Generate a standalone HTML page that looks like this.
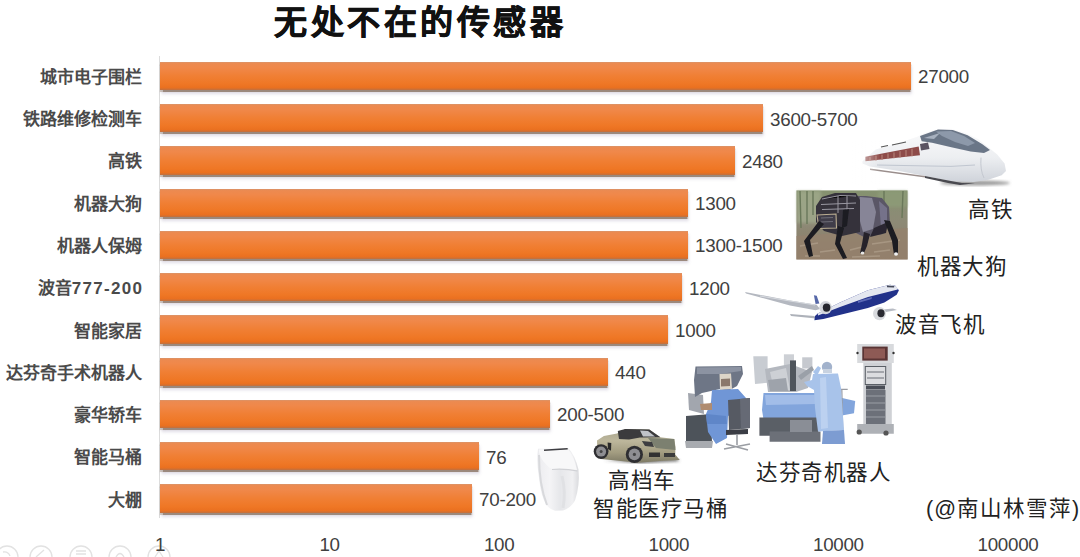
<!DOCTYPE html>
<html lang="zh-CN"><head><meta charset="utf-8">
<style>
*{margin:0;padding:0;box-sizing:border-box}
html,body{width:1080px;height:557px;overflow:hidden;background:#fff;font-family:"Liberation Sans",sans-serif}
#c{position:relative;width:1080px;height:557px}
.t{position:absolute;left:274px;top:-4px;font-size:33px;letter-spacing:3.5px;font-weight:bold;color:#111;white-space:nowrap;-webkit-text-stroke:0.6px #111}
.axis{position:absolute;left:159px;top:56px;width:1px;height:462px;background:#dcdcdc}
.lab{position:absolute;right:938px;font-size:17px;font-weight:bold;color:#4a4a4a;white-space:nowrap;text-align:right}
.bar{position:absolute;left:160px;height:28.3px;background:linear-gradient(#d9946a 0,#ec8a50 1.6px,#f0884a 20%,#f07f34 50%,#ef7725 78%,#ea7020 92%,#bf7040 100%);box-shadow:0 1.6px 1px rgba(125,100,80,.7),0.5px 4px 3px rgba(150,140,170,.3)}
.v{position:absolute;font-size:18.8px;letter-spacing:-0.25px;color:#404040;white-space:nowrap}
.x{position:absolute;z-index:1;top:534px;font-size:18.8px;letter-spacing:-0.3px;color:#404040;white-space:nowrap;width:100px;text-align:center}
.cap{position:absolute;font-size:21.5px;color:#222;white-space:nowrap;letter-spacing:0.5px}

</style></head><body><div id="c">
<div class="t">无处不在的传感器</div>
<div class="axis"></div>
<div class="bar" style="top:61.7px;width:751px"></div><div class="lab" style="top:62.9px">城市电子围栏</div><div class="v" style="left:918px;top:66.3px">27000</div>
<div class="bar" style="top:103.97px;width:603px"></div><div class="lab" style="top:105.17px">铁路维修检测车</div><div class="v" style="left:770px;top:108.57px">3600-5700</div>
<div class="bar" style="top:146.24px;width:575px"></div><div class="lab" style="top:147.44px">高铁</div><div class="v" style="left:742px;top:150.84px">2480</div>
<div class="bar" style="top:188.51px;width:528px"></div><div class="lab" style="top:189.71px">机器大狗</div><div class="v" style="left:695px;top:193.11px">1300</div>
<div class="bar" style="top:230.78px;width:528px"></div><div class="lab" style="top:231.98px">机器人保姆</div><div class="v" style="left:695px;top:235.38px">1300-1500</div>
<div class="bar" style="top:273.05px;width:522px"></div><div class="lab" style="top:274.25px">波音<span style="letter-spacing:1.3px">777-20</span>0</div><div class="v" style="left:689px;top:277.65px">1200</div>
<div class="bar" style="top:315.32px;width:508px"></div><div class="lab" style="top:316.52px">智能家居</div><div class="v" style="left:675px;top:319.92px">1000</div>
<div class="bar" style="top:357.59px;width:448px"></div><div class="lab" style="top:358.79px">达芬奇手术机器人</div><div class="v" style="left:615px;top:362.19px">440</div>
<div class="bar" style="top:399.86px;width:390px"></div><div class="lab" style="top:401.06px">豪华轿车</div><div class="v" style="left:557px;top:404.46px">200-500</div>
<div class="bar" style="top:442.13px;width:319px"></div><div class="lab" style="top:443.33px">智能马桶</div><div class="v" style="left:486px;top:446.73px">76</div>
<div class="bar" style="top:484.4px;width:312px"></div><div class="lab" style="top:485.6px">大棚</div><div class="v" style="left:479px;top:489.0px">70-200</div>
<div class="x" style="left:110.0px">1</div><div class="x" style="left:279.6px">10</div><div class="x" style="left:449.2px">100</div><div class="x" style="left:618.8px">1000</div><div class="x" style="left:788.4px">10000</div><div class="x" style="left:958.0px">100000</div>
<svg style="position:absolute;left:0;top:0" width="1080" height="557" viewBox="0 0 1080 557">
<defs>
<filter id="b1" x="-20%" y="-20%" width="140%" height="140%"><feGaussianBlur stdDeviation="0.6"/></filter>
<filter id="b2" x="-20%" y="-20%" width="140%" height="140%"><feGaussianBlur stdDeviation="1.5"/></filter>
<filter id="b3" x="-50%" y="-50%" width="200%" height="200%"><feGaussianBlur stdDeviation="3"/></filter>
<linearGradient id="trainBody" x1="0" y1="0" x2="0" y2="1"><stop offset="0" stop-color="#fbfbfc"/><stop offset="0.55" stop-color="#eceef1"/><stop offset="1" stop-color="#cfd3da"/></linearGradient>
<linearGradient id="trainFade" x1="0" y1="0" x2="1" y2="0"><stop offset="0" stop-color="#fff" stop-opacity="1"/><stop offset="0.3" stop-color="#fff" stop-opacity="0.6"/><stop offset="1" stop-color="#fff" stop-opacity="0"/></linearGradient>
<linearGradient id="dogBg" x1="0" y1="0" x2="0" y2="1"><stop offset="0" stop-color="#85926f"/><stop offset="0.45" stop-color="#8d8a76"/><stop offset="1" stop-color="#8c7a66"/></linearGradient>
<linearGradient id="carBody" x1="0" y1="0" x2="0" y2="1"><stop offset="0" stop-color="#a8a58e"/><stop offset="0.35" stop-color="#bdb79c"/><stop offset="0.7" stop-color="#a29c80"/><stop offset="1" stop-color="#7e7a66"/></linearGradient>
<linearGradient id="toilet" x1="0" y1="0" x2="1" y2="0"><stop offset="0" stop-color="#ececef"/><stop offset="0.3" stop-color="#f4f4f6"/><stop offset="0.55" stop-color="#e6e7ea"/><stop offset="0.85" stop-color="#f0f0f2"/><stop offset="1" stop-color="#dadbde"/></linearGradient>
</defs>
<!-- TRAIN -->
<g filter="url(#b1)">
<ellipse cx="975" cy="183" rx="35" ry="2.5" fill="#9a9a9a" filter="url(#b2)"/>
<path d="M862.4,161.3 L875.7,149.4 L899.4,142.7 L917.2,136.8 L924.6,133.1 L938,129.1 L951.3,128.7 L964.6,132.4 L978,139 L988.3,147.2 L997.2,154.6 L1004.6,163.5 L1006,171 L1001.7,175.3 L988.3,179.8 L973.5,182 L951.3,181.3 L929,176.8 L899.4,170.9 L869.8,166.4 L862.4,163.5 Z" fill="url(#trainBody)"/>
<path d="M920,136 L938,129.4 L952.8,130.1 L967.6,135.3 L982.4,144.2 L990,150 L984,153 L970.6,151.6 L951.3,147.2 L932,142.7 L921.7,141.3 Z" fill="#6b7687"/>
<path d="M936,131.5 L951,131 L964,136 L975,143 L968,146 L955,142 L942,136 Z" fill="#8d99aa"/>
<path d="M924,138 L940,133 L934,139 Z" fill="#a7b1bf"/>
<path d="M865.4,156.8 L890,152 L918.7,146.4 L920,155.3 L890,158.6 L865.4,161.3 Z" fill="#8e4c4a"/>
<path d="M870,157 L870,161 M876,155.8 L876,160.4 M882,154.8 L882,159.8 M888,153.6 L888,159 M894,152.4 L894,158.3 M900,151.2 L900,157.6 M906,150 L906,157 M912,148.8 L912,156.3" stroke="#b07a72" stroke-width="1.3"/>
<path d="M881,147 L888,145.5 M892,145 L906,142" stroke="#555" stroke-width="1.2"/>
<path d="M920,144 L928,142.5 L929.5,149 L921,150.5 Z" fill="#5a5262"/>
<path d="M877,165 L951,166.4 L975,165" stroke="#c0c6d0" stroke-width="1" fill="none"/>
<path d="M870,168.5 L925,176 L925,177.5 L870,170 Z" fill="#9a8e8c"/><path d="M925,176 L951,181 L962,183 L975,183.3 L960,185 L948,183 L925,178 Z" fill="#4a4a50"/>
<path d="M981,157.6 Q980,170 984,178" stroke="#c4c8d0" stroke-width="1" fill="none"/>
<rect x="850" y="140" width="30" height="45" fill="url(#trainFade)"/>
</g>
<!-- ROBOT DOG -->
<g filter="url(#b1)">
<rect x="796.4" y="190.4" width="111.2" height="69" fill="url(#dogBg)"/>
<rect x="797" y="191" width="24" height="32" fill="#a2ac8e" opacity="0.75" filter="url(#b2)"/>
<rect x="878" y="191" width="29" height="16" fill="#8e9c78" opacity="0.8" filter="url(#b2)"/>
<path d="M800,191 L801,228 M807,191 L807,224 M813,191 L813,215 M884,191 L884,212 M903,191 L902,218" stroke="#6a785a" stroke-width="1.4"/>
<path d="M796.4,236 L907.6,228 L907.6,259.4 L796.4,259.4 Z" fill="#95826e" opacity="0.75"/>
<path d="M800,246 L818,243 M820,252 L835,250 M850,250 L862,247 M872,244 L900,240 M874,252 L890,250 M805,256 L820,256 M852,257 L880,256" stroke="#b0a08c" stroke-width="1.4" opacity="0.7"/>
<path d="M866,196 L882,198 L889,207 L890,224 L883,234 L864,237 L852,231 L852,196 Z" fill="#5a5766"/>
<path d="M860,197 L872,198 L876,212 L873,229 L863,232 L858,214 Z" fill="#878597"/>
<path d="M879,201 L887,208 L887,222 L881,227 Z" fill="#75728a"/>
<path d="M874,228 L888,222 L886,233 L870,237 Z" fill="#2a2830"/>
<path d="M816,206 L822,197 L835,193 L856,193 L860,200 L860,232 L842,236 L824,231 L816,222 Z" fill="#34323b"/>
<path d="M822,199 L840,195.5 L856,196 M821,204.5 L856,203 M822,209.5 L854,208.5 M838,196 L838,213 M847,196 L847,213" stroke="#9a98a2" stroke-width="1"/>
<path d="M817,215 L836,214 L836.5,228 L819,228.5 Z" fill="#403e48" stroke="#bcae92" stroke-width="1.1"/>
<path d="M821,218 L833,217.5 M821,222 L833,221.5" stroke="#7a7884" stroke-width="0.8"/>
<path d="M843,210 L849,209 L847,226 L842,228 Z" fill="#1c1b20"/>
<path d="M819,221 L824,224 L810,240 L813,256 L809,257 L804,241 Z" fill="#1c1b20"/>
<path d="M838,226 L844,228 L840,243 L847,258 L843,259 L835,244 Z" fill="#1c1b20"/>
<path d="M884,220 L890,221 L898,240 L898,254 L894,255 L892,241 Z" fill="#1e1c22"/>
<path d="M864,232 L870,234 L867,246 L864,253 L860,253 L862,244 Z" fill="#25232a"/>
<ellipse cx="896" cy="254" rx="2" ry="1.8" fill="#f2f2f2"/>
<ellipse cx="862.5" cy="253" rx="1.8" ry="1.6" fill="#e6e6e6"/>
</g>
<!-- PLANE -->
<g filter="url(#b1)">
<path d="M745,292 L790,300.5 L816.7,304.7 L820,309 L815.6,310.2 L790,305.5 L746,293.5 Z" fill="#b4b8c0"/>
<path d="M760,296 L790,301 L815,305" stroke="#d8dbe0" stroke-width="1" fill="none"/>
<path d="M790,314 L814.4,316 L816,318.5 L791,316 Z" fill="#aeb2ba"/>
<path d="M883,309.5 L893,308.5 L897,310 L886,312 Z" fill="#b8bcc4"/>
<path d="M813.9,295.2 L816.7,295.8 L819.4,303.6 L815.6,304.1 Z" fill="#5668a8"/>
<path d="M890,284.7 L895,285.5 L898.9,290.2 L896.7,294.7 L884.4,302.4 L867.8,308 L845.6,313.6 L823.3,319.1 L814.4,320.2 L815,316 L817.8,313.6 L840,302.4 L867.8,290.2 Z" fill="#24308a"/>
<path d="M890,284.7 L895,285.5 L898.5,289 L896.7,289.7 L868,297 L840,306.9 L818,315.5 L817.8,313.6 L840,302.4 L867.8,290.2 Z" fill="#e4e7f0"/>
<path d="M887,285.5 L894.4,286 L894,287.5 L887,287.2 Z" fill="#444a5a"/>
<path d="M858,301 L872,297 L871.5,299 L858,303 Z" fill="#6a78c0" opacity="0.8"/>
<ellipse cx="825.6" cy="307.6" rx="6.3" ry="6.6" fill="#d4d6dc"/><ellipse cx="826.6" cy="307.6" rx="3.8" ry="4.2" fill="#26282e"/>
<ellipse cx="879.5" cy="313.6" rx="6.5" ry="6.6" fill="#d8dade"/><ellipse cx="881" cy="313.2" rx="3.6" ry="4" fill="#2a2c32"/>
</g>
<!-- CAR -->
<g filter="url(#b1)">
<path d="M604,460 L640,463 L679.8,461 L676,459 L640,460 Z" fill="#555" filter="url(#b2)"/>
<path d="M597,440.5 L603.9,435.9 L617,433.5 L625.2,429 L649.3,429.4 L660.4,437.3 L674.3,439.1 L675.5,447 L675.2,454.4 L679.8,460 L660,461 L638,462.7 L601,459 L597.4,454.4 Z" fill="url(#carBody)"/>
<path d="M625.2,429 L649.3,429.4 L660.4,437.3 L640,437.5 L629,439.6 L619,439 L617.8,431 Z" fill="#3a3a3c"/>
<path d="M640,430.5 L648,431 L655,436.5 L643,436.5 Z" fill="#d8dce0" opacity="0.85"/>
<path d="M648,438 L674.3,439.1 L675.5,450 L656,448 Z" fill="#7b8070"/>
<path d="M641.9,441 L652,442 L654,447 L645,446 Z" fill="#3c3e40"/>
<path d="M649,452.5 L660,452.5 L660,457 L649,457 Z" fill="#333"/>
<path d="M664,453 L675,453 L675,457 L664,457 Z" fill="#3a3a3a"/>
<path d="M607.6,442.4 L611.3,443 L611,450.7 L608,449 Z" fill="#2c2c2c"/>
<circle cx="601.1" cy="451.6" r="7.4" fill="#2e2e30"/><circle cx="601.1" cy="451.6" r="5" fill="#8e8e92"/><circle cx="601.1" cy="451.6" r="1.5" fill="#444"/>
<circle cx="634.4" cy="454.4" r="8.6" fill="#2e2e30"/><circle cx="634.4" cy="454.4" r="5.8" fill="#8e8e92"/><circle cx="634.4" cy="454.4" r="1.6" fill="#444"/>
</g>
<!-- TOILET -->
<g filter="url(#b1)">
<path d="M538,448.7 L568.4,448.3 Q575,455 578.5,469.6 Q580,486 575,500.6 Q571,508 563,510.5 L555,510.7 Q549,509 546,504 Q541,496 539.4,480.4 Q537,466 537.4,455 Z" fill="url(#toilet)"/>
<path d="M539,449.5 L568,449 Q574,456 577,470 Q563,468.5 552,469.5 Q541,462 539,452 Z" fill="#f8f8f9"/>
<path d="M552,469.5 Q565,468.5 577.5,471" stroke="#d0d1d5" stroke-width="1.2" fill="none"/>
<path d="M544,450.2 L567.7,448.8" stroke="#3e3e42" stroke-width="1.6"/>
<path d="M539,455 Q539,485 547,505" stroke="#d8d9dc" stroke-width="2" fill="none"/>
<path d="M562,476 Q566,492 563,508" stroke="#e0e1e4" stroke-width="3" fill="none"/>
</g>
<!-- DA VINCI -->
<g filter="url(#b1)">
<!-- console -->
<path d="M688,393 L703,395 L704,414 L689,410 Z" fill="#a2a6ae"/>
<path d="M686,416 L711,414 L712,442 L686,443 Z" fill="#4e525a"/>
<path d="M685,441 L713,441 L712,448 L686,448 Z" fill="#a8abb0"/>
<path d="M695.5,366.5 L742,366 L743,374 L737,386 L728,391 L720,389 L702,393 L695,397 L694,380 Z" fill="#6e7686"/>
<path d="M697,367.5 L741,367 L741,371 L720,374 L697,374 Z" fill="#8c93a2"/>
<path d="M719.5,374 L731,373.5 L732,389 L720,390 Z" fill="#ddd5c8"/>
<path d="M721,379 L730,378.5 L730,386 L721,386.5 Z" fill="#8a786c"/>
<path d="M712,390 L738,389 L746,398 L742,410 L728,416 L727,438 L716,444 L708,432 L706,414 L711,402 Z" fill="#6f96d6"/>
<path d="M706,414 L726,416 L727,424 L707,424 Z" fill="#5f86c8"/>
<path d="M700,404 L712,403 L712,410 L701,410 Z" fill="#b08c70"/>
<path d="M728,400 L750,398 L750,428 L729,430 Z" fill="#565a64"/>
<path d="M740,399 L750,398 L750,428 L741,429 Z" fill="#666a74"/>
<path d="M726,430 L748,429 L748,434 L726,435 Z" fill="#3a3d44"/>
<path d="M737,434 L737,445 M724,449 L750,444 M726,444 L748,450" stroke="#9a9da3" stroke-width="1.6"/>
<!-- patient cart -->
<path d="M753.3,356.3 L767.6,356.3 L767.6,382.8 L755,384 Z" fill="#c8ccd2"/>
<path d="M783.9,354.3 L794,354.3 L794,368.5 L783.9,368.5 Z" fill="#cdd0d5"/>
<path d="M802.2,357.3 L812.4,357.3 L812.4,368.5 L802.2,368.5 Z" fill="#c6c9cf"/>
<path d="M765,369 L790,364 L812,372 L808,388 L796,392 L768,392 Z" fill="#b4b8bf"/>
<path d="M770,372 L786,368 L790,390 L774,390 Z" fill="#cdd0d5"/><path d="M768,380 L786,378 L788,391 L770,391 Z" fill="#9ea3ab"/>
<path d="M790,360.4 L796,360.4 L796,391 L790,391 Z" fill="#50545c"/>
<path d="M798,376 L812,366 L814,370 L801,380 Z" fill="#9aa0a8"/>
<path d="M763.5,393 L820.5,393 L855.2,401 L854,413.3 L820.5,419.4 L763.5,419.4 L762,410 Z" fill="#82a5dc"/>
<path d="M765,395 L818,395 L816,404 L766,405 Z" fill="#a2bde8"/>
<path d="M759.4,417.4 L818.5,417.4 L818.5,435.7 L759.4,435.7 Z" fill="#5a5e66"/>
<path d="M769.6,431.6 L820.5,431.6 L820.5,441.8 L769.6,441.8 Z" fill="#6c7078"/>
<path d="M790,420 L812,420 L812,432 L790,432 Z" fill="#8a8e96"/>
<!-- standing surgeon -->
<path d="M836.8,389.4 L847.7,389.4 M841.8,389.4 L842.8,440" stroke="#9a9ca2" stroke-width="1.3"/>
<circle cx="827" cy="367" r="5.2" fill="#a2b2cc"/>
<path d="M823,369 L832,369 L832,373 L823,373 Z" fill="#c8d2e0"/>
<path d="M813,374 L838,373.5 L841,388 L844,430 L818,431.5 L815,408 L814,390 L807,386 L804,382 L812,380 Z" fill="#a8c3ea"/>
<path d="M813,372 L818,366 L821,368 L817,376 Z" fill="#a8c3ea"/>
<path d="M820,378 L826,377 L828,428 L821,429 Z" fill="#bcd1f0"/>
<path d="M823,431 L844,430 L845,444 L822,444 Z" fill="#7d9cd2"/>
<!-- vision cart -->
<path d="M857.2,344 L893.8,344 L893.8,363 L857.2,363 Z" fill="#d8dadd"/>
<rect x="862.3" y="346.6" width="25.4" height="14" fill="#5a3434"/>
<rect x="864" y="348.5" width="21" height="10" fill="#8e5a54"/>
<circle cx="857.5" cy="353" r="1.2" fill="#333"/><circle cx="893.5" cy="353" r="1.2" fill="#333"/>
<path d="M863.3,363 L891.8,363 L891.8,425.5 L863.3,425.5 Z" fill="#cfd1d5"/>
<rect x="865.3" y="366.5" width="20.4" height="18" fill="#dcdde0" stroke="#5a5e66" stroke-width="1"/>
<path d="M867,372 L884,372 M867,378 L884,378" stroke="#6a6e76" stroke-width="1"/>
<rect x="866" y="385.5" width="19" height="4" fill="#4a4e56"/>
<rect x="866" y="390" width="19.5" height="34" fill="#6c7079"/>
<path d="M866,396 L885,396 M866,403 L885,403 M866,410 L885,410 M866,417 L885,417" stroke="#9a9ea6" stroke-width="1"/>
<path d="M857.2,424 L893.8,424 L893.8,433.7 L857.2,433.7 Z" fill="#aeb1b6"/>
<circle cx="859.2" cy="432" r="2.6" fill="#555"/><circle cx="886" cy="433" r="2.6" fill="#555"/>
</g>
<!-- faint bottom icons -->
<g fill="none" stroke="#e2e2e2" stroke-width="1.3" filter="url(#b1)">
<circle cx="7" cy="557" r="11"/><circle cx="41" cy="557" r="11"/><circle cx="81" cy="557" r="11"/><circle cx="120" cy="557" r="11"/><circle cx="159" cy="557" r="11"/>
<path d="M36,557 L44,550 M76,551 L86,551 M76,554 L86,554 M116,557 Q120,550 124,557 M155,557 L159,551 L163,557 M3,552 Q8,551 10,556"/>
</g>
</svg>
<div class="cap" style="left:968px;top:191.5px">高铁</div>
<div class="cap" style="left:917px;top:248.5px">机器大狗</div>
<div class="cap" style="left:895px;top:306.5px">波音飞机</div>
<div class="cap" style="left:608px;top:462.5px">高档车</div>
<div class="cap" style="left:593px;top:490.5px">智能医疗马桶</div>
<div class="cap" style="left:756px;top:454.5px">达芬奇机器人</div>
<div class="cap" style="left:926px;top:490.5px;letter-spacing:1px">(@南山林雪萍)</div>

</div></body></html>
